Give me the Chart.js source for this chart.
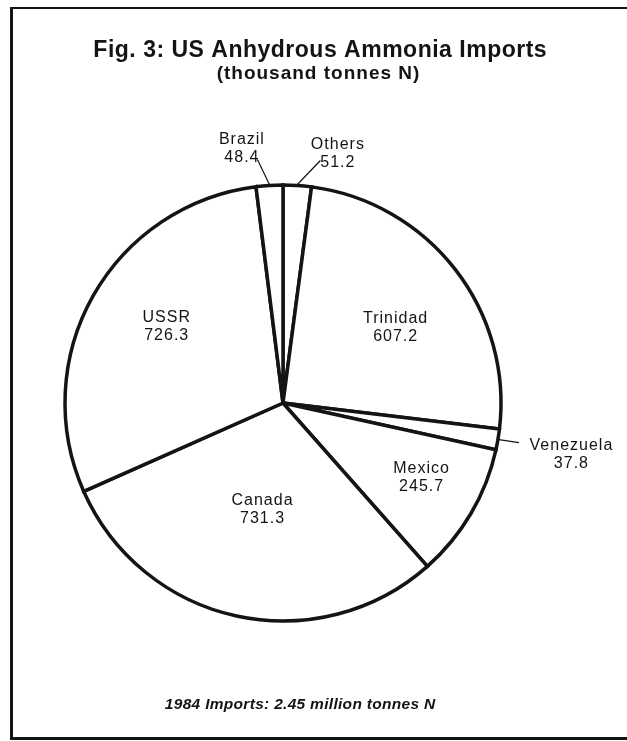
<!DOCTYPE html>
<html>
<head>
<meta charset="utf-8">
<script src="https://cdn.jsdelivr.net/npm/chart.js@4"></script>
<style>
  html, body { margin: 0; padding: 0; background: #fff; }
  #wrap { position: relative; width: 627px; height: 741px; overflow: hidden; }
  #frame { position: absolute; left: 10px; top: 7px; width: 700px; height: 728px;
           border-left: 3px solid #141414; border-top: 2px solid #141414; border-bottom: 3px solid #141414; }
  canvas { position: absolute; left: 0; top: 0; }
</style>
</head>
<body>
<div id="wrap">
  <div id="frame"></div>
  <canvas id="chart" width="627" height="741"></canvas>
</div>
<script>
// slices, clockwise from 12 o'clock
const countries = ['Others', 'Trinidad', 'Venezuela', 'Mexico', 'Canada', 'USSR', 'Brazil'];
const imports = [51.2, 607.2, 37.8, 245.7, 731.3, 726.3, 48.4];   // thousand tonnes N
const titleText = 'Fig. 3: US Anhydrous Ammonia Imports';
const subtitleText = '(thousand tonnes N)';
const importYear = 1984;

const INK = '#141414';
const FONT = "'Liberation Sans', Arial, Helvetica, sans-serif";

// where each slice label goes: inside ones are nudged polar positions,
// outside ones hang off a leader line from the rim
const labelLayout = {
    Others:    { leader: [23, -24], text: [40, -40] },
    Brazil:    { leader: [-12, -25], text: [-28, -45] },
    Venezuela: { leader: [20, 3], text: [72, 6] },
    Trinidad:  { rf: 0.62, dAng: 3.9 },
    USSR:      { rf: 0.64, dAng: 3.7 },
    Canada:    { rf: 0.50, dAng: -1.2 },
    Mexico:    { rf: 0.72, dAng: -2.1 }
};

function drawText(ctx, text, x, y, font, spacing) {
    ctx.font = font;
    ctx.letterSpacing = spacing + 'px';
    ctx.fillText(text, x + spacing / 2, y);
}

const figureText = {
    id: 'figureText',
    afterDatasetsDraw(chart) {
        const ctx = chart.ctx;
        const meta = chart.getDatasetMeta(0);
        ctx.save();
        ctx.fillStyle = INK;
        ctx.strokeStyle = INK;
        ctx.textAlign = 'center';
        ctx.textBaseline = 'middle';

        meta.data.forEach((arc, i) => {
            const name = countries[i];
            const lay = labelLayout[name];
            const p = arc.getProps(['x', 'y', 'startAngle', 'endAngle', 'outerRadius'], true);
            const mid = (p.startAngle + p.endAngle) / 2;
            const value = imports[i].toFixed(1);
            let tx, ty;
            if (lay.leader) {
                const ex = p.x + (p.outerRadius + 1) * Math.cos(mid);
                const ey = p.y + (p.outerRadius + 1) * Math.sin(mid);
                ctx.lineWidth = 1.2;
                ctx.beginPath();
                ctx.moveTo(ex, ey);
                ctx.lineTo(ex + lay.leader[0], ey + lay.leader[1]);
                ctx.stroke();
                tx = ex + lay.text[0];
                ty = ey + lay.text[1];
            } else {
                const a = mid + lay.dAng * Math.PI / 180;
                tx = p.x + lay.rf * p.outerRadius * Math.cos(a);
                ty = p.y + lay.rf * p.outerRadius * Math.sin(a) - 9;
            }
            drawText(ctx, name, tx, ty, '16px ' + FONT, 1);
            drawText(ctx, value, tx, ty + 18, '16px ' + FONT, 1);
        });

        drawText(ctx, titleText, 320, 51, 'bold 23px ' + FONT, 0.5);
        drawText(ctx, subtitleText, 318, 74, 'bold 19px ' + FONT, 1);

        const total = imports.reduce((s, v) => s + v, 0) / 1000;
        drawText(ctx, importYear + ' Imports: ' + total.toFixed(2) + ' million tonnes N',
            300, 705, 'italic bold 15.5px ' + FONT, 0.3);
        ctx.restore();
    }
};

new Chart(document.getElementById('chart'), {
    type: 'pie',
    data: {
        labels: countries,
        datasets: [{
            data: imports,
            backgroundColor: '#ffffff',
            borderColor: INK,
            borderWidth: 3.5,
            borderJoinStyle: 'miter',
            radius: 218
        }]
    },
    options: {
        responsive: false,
        animation: false,
        rotation: 0,
        layout: { padding: { left: 0, right: 61, top: 65, bottom: 0 } },
        plugins: {
            legend: { display: false },
            tooltip: { enabled: false },
            title: { display: false }
        }
    },
    plugins: [figureText]
});
</script>
</body>
</html>
